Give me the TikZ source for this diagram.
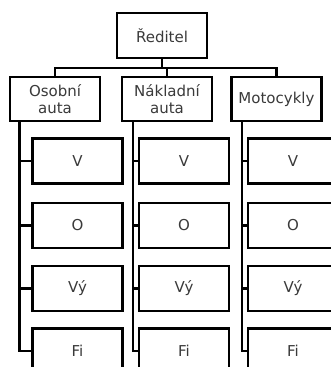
\documentclass[tikz,border=0pt]{standalone}
\usepackage{fontspec}
\setmainfont{DejaVu Sans}
\definecolor{txt}{HTML}{3A3A3A}
\tikzset{
  box/.style={draw=black, line width=2.8pt, fill=white, minimum width=90pt,
    minimum height=45pt, inner sep=0pt, align=center, text=txt,
    font=\fontsize{15}{17}\selectfont},
  link/.style={draw=black, line width=2.8pt},
}
\begin{document}
\begin{tikzpicture}[x=1pt, y=-1pt]
  \clip (0,0) rectangle (331,367);
  \fill[white] (0,0) rectangle (331,367);

  % top of the chart
  \node[box] (root) at (162,35.5) {Ředitel};

  % departments
  \node[box, minimum height=44pt] (osobni) at (55,99) {Osobní\\auta};
  \node[box, minimum height=44pt] (nakladni) at (167,99) {Nákladní\\auta};
  \node[box, minimum height=44pt] (moto) at (276.5,99) {Motocykly};

  \coordinate (bar) at (162,68);
  \draw[link] (root.south) -- (bar);
  \draw[link] (bar) -| (osobni.north);
  \draw[link] (bar) -| (nakladni.north);
  \draw[link] (bar) -| (moto.north);

  % sub-units of each department
  \foreach \cc/\cx/\tx in {a/77.5/19.5, b/184/133, c/293/242} {
    \node[box] (\cc1) at (\cx,161)   {V};
    \node[box] (\cc2) at (\cx,225.5) {O};
    \node[box] (\cc3) at (\cx,288.5) {Vý};
    \node[box] (\cc4) at (\cx,351)   {Fi};
    \coordinate (\cc top) at (\tx,121);
    \draw[link] (\cc top) |- (\cc4.west);
    \draw[link] (\cc top) |- (\cc1.west);
    \draw[link] (\cc top) |- (\cc2.west);
    \draw[link] (\cc top) |- (\cc3.west);
  }
\end{tikzpicture}
\end{document}
